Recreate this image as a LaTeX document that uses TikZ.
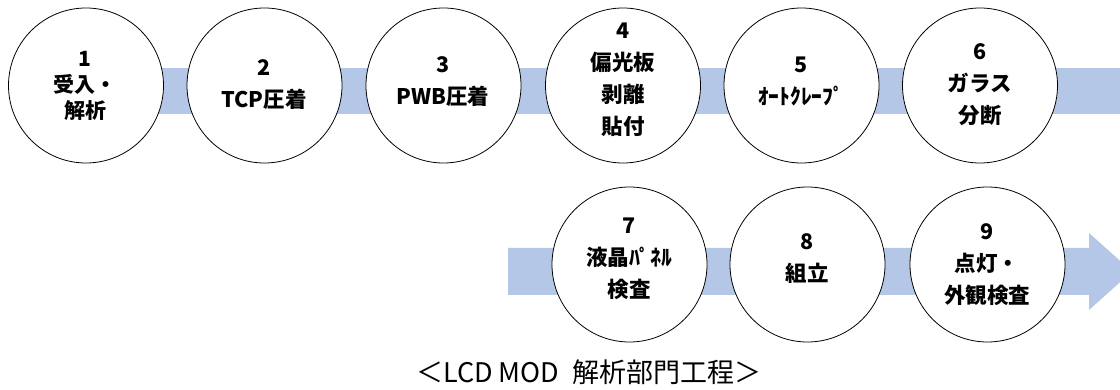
\documentclass[tikz,border=0pt]{standalone}
\usepackage{fontspec}
\newfontfamily\jp{Noto Sans CJK JP}
\definecolor{band}{RGB}{180,199,231}
\tikzset{
  proc/.style={circle,draw=black,line width=0.8pt,fill=white,minimum size=155pt,inner sep=0pt},
  lbl/.style={align=center,inner sep=0pt,font=\jp\bfseries\fontsize{21.5}{32}\selectfont},
  lbltight/.style={lbl,font=\jp\bfseries\fontsize{21}{26}\selectfont},
  caption/.style={inner sep=0pt,font=\jp\fontsize{27}{32}\selectfont}
}
\begin{document}
\begin{tikzpicture}[x=1pt,y=-1pt]
\useasboundingbox (0,0) rectangle (1120,390);
% bands
\fill[band] (86,68) rectangle (1120,114);
\fill[band] (508,248) -- (1089,248) -- (1089,233) -- (1132,271.5) -- (1089,310) -- (1089,295) -- (508,295) -- cycle;
% circles
\node[proc] (c1) at (86,85.5) {};
\node[proc] (c2) at (264.5,85.5) {};
\node[proc] (c3) at (443.5,85.5) {};
\node[proc] (c4) at (623,85.5) {};
\node[proc] (c5) at (801.5,85.5) {};
\node[proc] (c6) at (980,85.5) {};
\node[proc] (c7) at (629.5,264.5) {};
\node[proc] (c8) at (807.5,264.5) {};
\node[proc] (c9) at (987.5,264.5) {};
% labels
\node[lbltight] (t1) at (85,86) {1\\受入・\\解析};
\node[lbl] (t2) at (264,85) {2\\TCP圧着};
\node[lbl] (t3) at (443,82) {3\\PWB圧着};
\node[lbl] (t4) at (623,80) {4\\偏光板\\剥離\\貼付};
\node[lbl] (t5) at (801,81) {5\\ｵｰﾄｸﾚｰﾌﾟ};
\node[lbl] (t6) at (980,85) {6\\ガラス\\分断};
\node[lbl] (t7) at (629,259) {7\\液晶ﾊﾟﾈﾙ\\検査};
\node[lbl] (t8) at (807,259) {8\\組立};
\node[lbl] (t9) at (987,264.5) {9\\点灯・\\外観検査};
\node[caption] (cap) at (589,372) {＜LCD MOD\hspace*{0.5em}解析部門工程＞};
\end{tikzpicture}
\end{document}
